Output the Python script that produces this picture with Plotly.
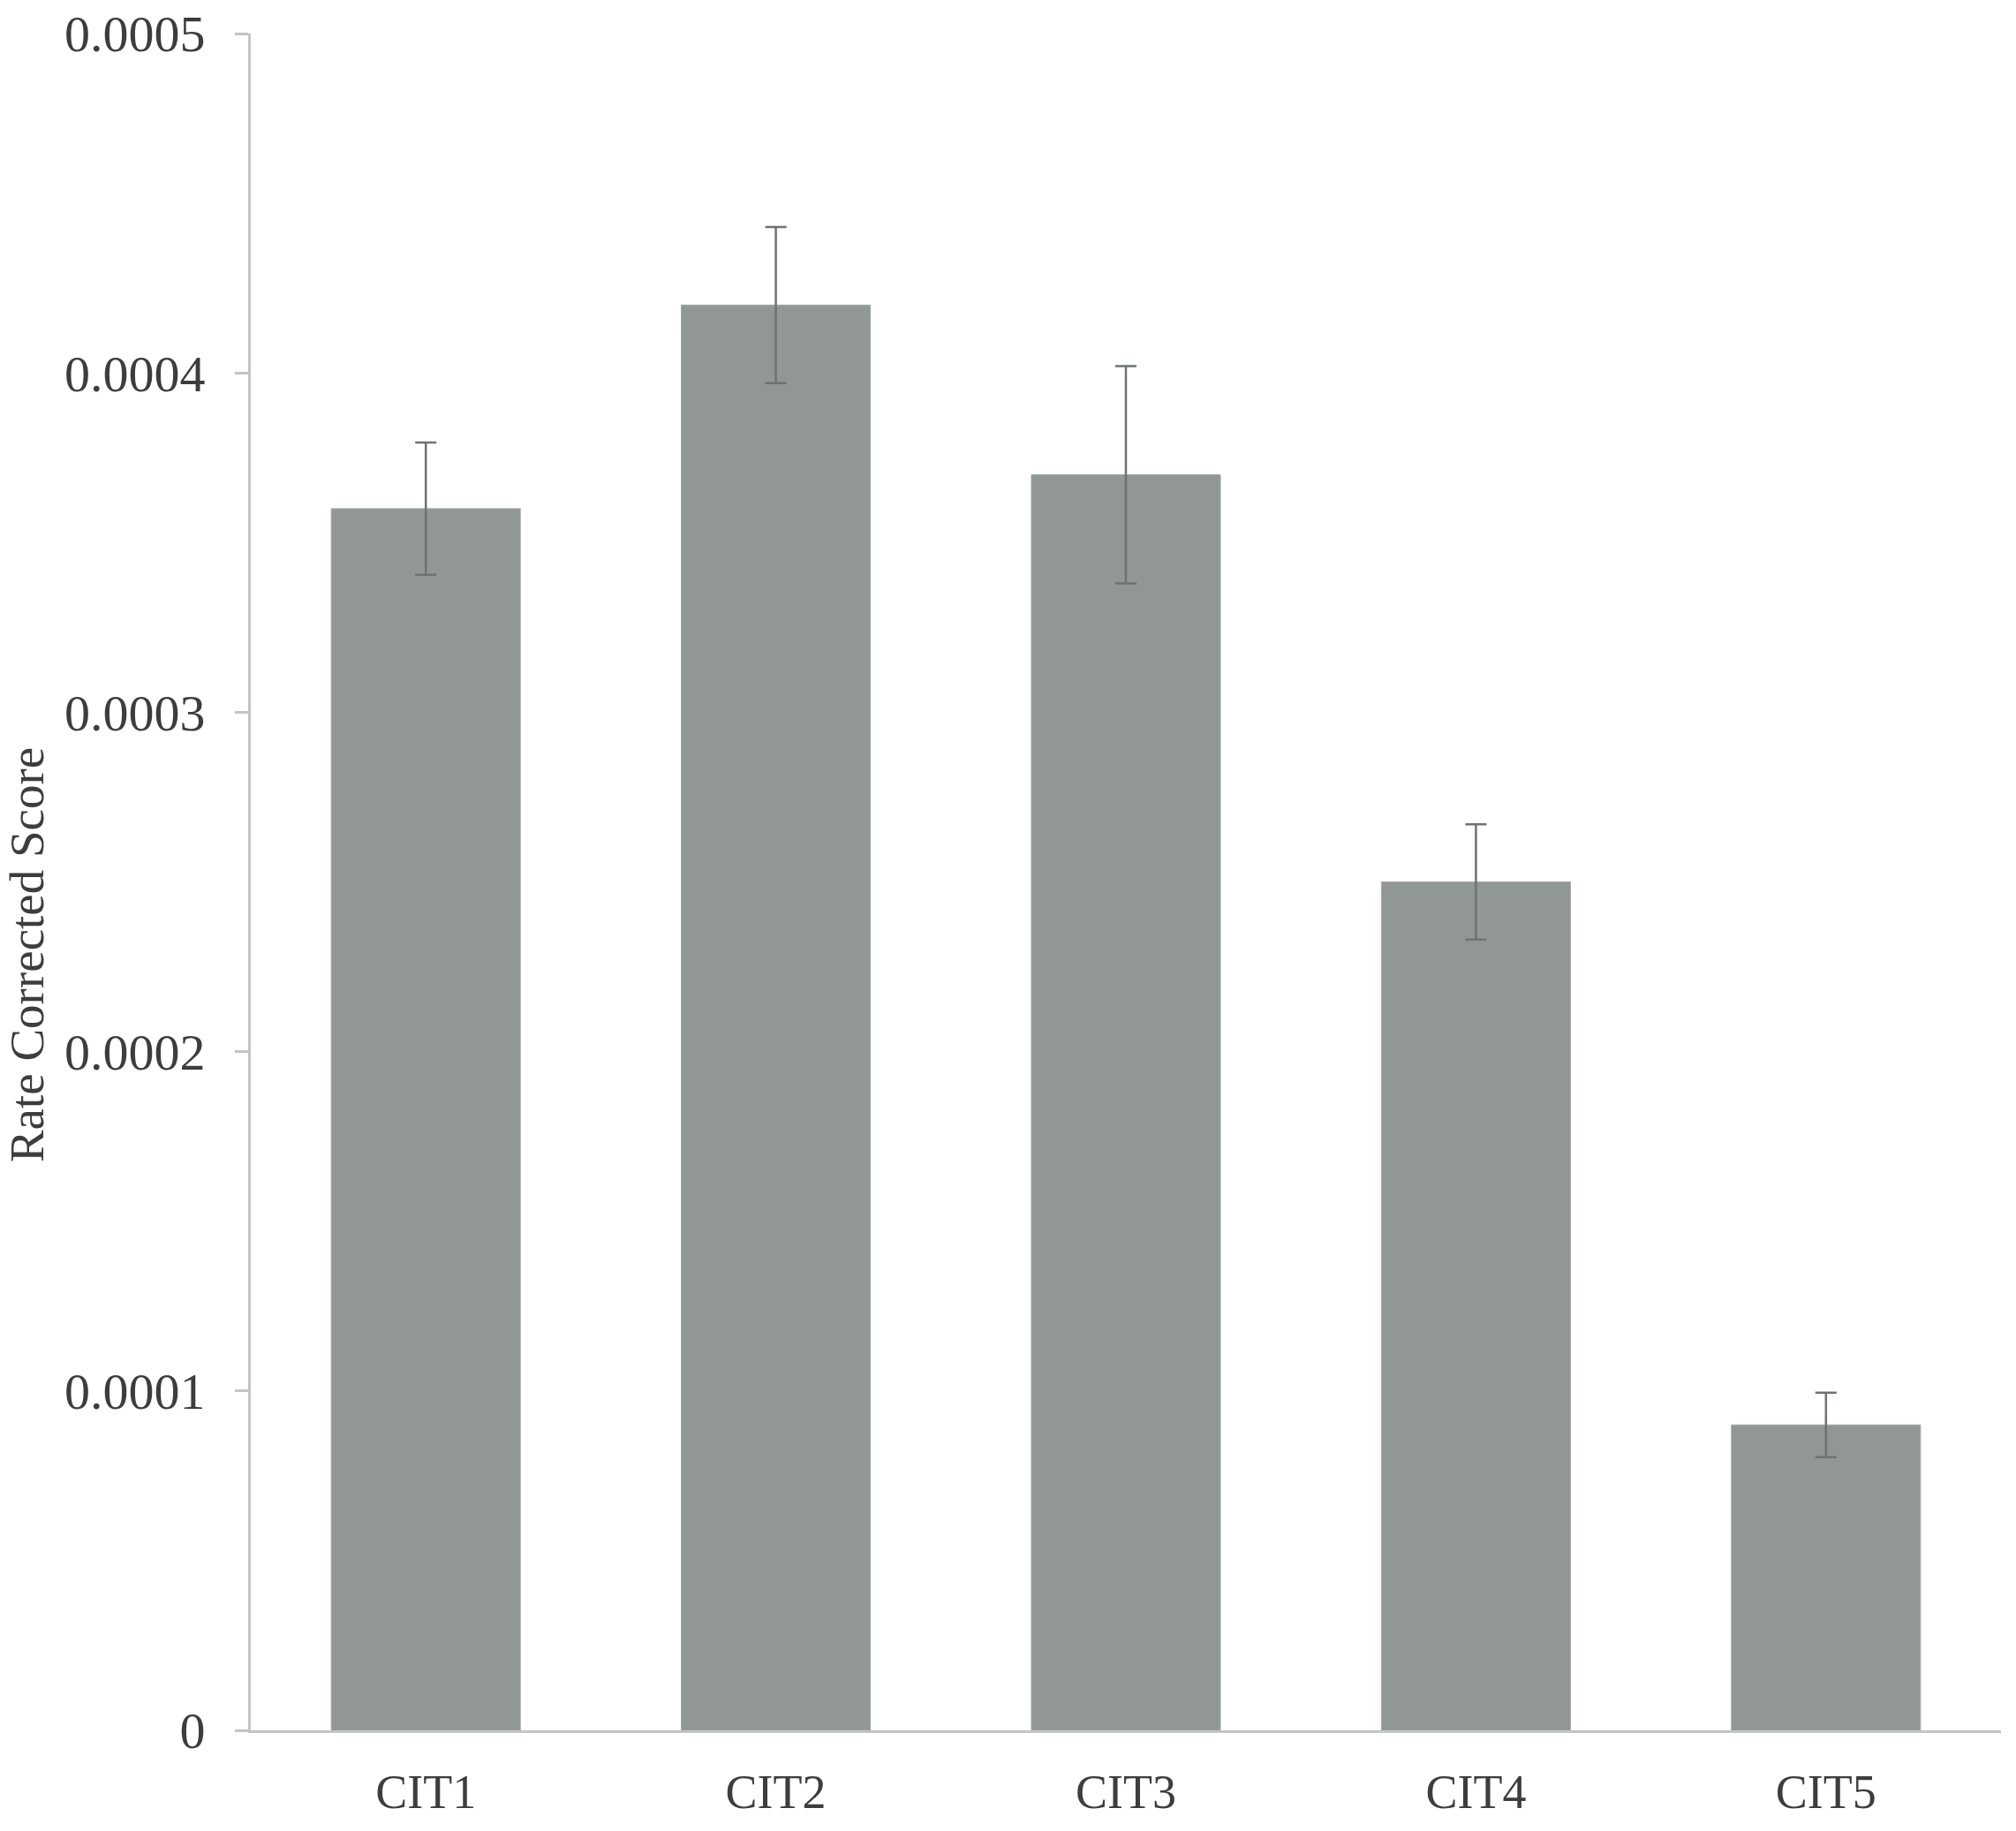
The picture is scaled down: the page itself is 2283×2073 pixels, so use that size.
import plotly.graph_objects as go

# values
categories = ["CIT1", "CIT2", "CIT3", "CIT4", "CIT5"]
scores = [0.000360, 0.000420, 0.000370, 0.000250, 0.0000900]
errors = [0.0000195, 0.0000230, 0.0000320, 0.0000170, 0.0000095]
y_ticks = [0, 0.0001, 0.0002, 0.0003, 0.0004, 0.0005]
y_tick_labels = ["0", "0.0001", "0.0002", "0.0003", "0.0004", "0.0005"]

axis_grey = "#c4c4c4"
text_grey = "#3d3d3d"

fig = go.Figure()
fig.add_trace(go.Bar(
    x=categories, y=scores,
    width=0.54,
    marker=dict(color="#919696", line=dict(color="#a3a6a6", width=1)),
    error_y=dict(type="data", array=errors, visible=True,
                 color="#6f7272", thickness=2.5, width=12),
))

fig.update_layout(
    width=2283, height=2073,
    margin=dict(l=284, r=17, t=38, b=114),
    plot_bgcolor="white", paper_bgcolor="white",
    font=dict(family="Liberation Serif, Times New Roman, serif", size=54, color=text_grey),
    showlegend=False,
)
# fixed margins: no automargin, so the top tick label doesn't push the plot down
fig.update_xaxes(
    showline=True, linecolor=axis_grey, linewidth=3, automargin=False,
    ticks="", showgrid=False, ticklabelstandoff=20,
    tickfont=dict(size=54, color=text_grey),
)
fig.update_yaxes(
    range=[0, 0.0005], tickvals=y_ticks, ticktext=y_tick_labels,
    showline=True, linecolor=axis_grey, linewidth=3, automargin=False,
    ticks="outside", ticklen=15, tickcolor=axis_grey, tickwidth=3,
    showgrid=False, zeroline=False, ticklabelstandoff=22,
    ticklabeloverflow="allow",
    tickfont=dict(size=58, color=text_grey),
)
fig.add_annotation(
    text="Rate Corrected Score", textangle=-90,
    xref="paper", yref="paper", x=0, y=0.457,
    xanchor="center", yanchor="middle", xshift=-254, showarrow=False,
    font=dict(size=55, color=text_grey),
)

# drop the browser's default 8px body margin so the figure sits at the page corner
fig.write_html("out.html", config={"displayModeBar": False},
               post_script="document.body.style.margin='0';")
